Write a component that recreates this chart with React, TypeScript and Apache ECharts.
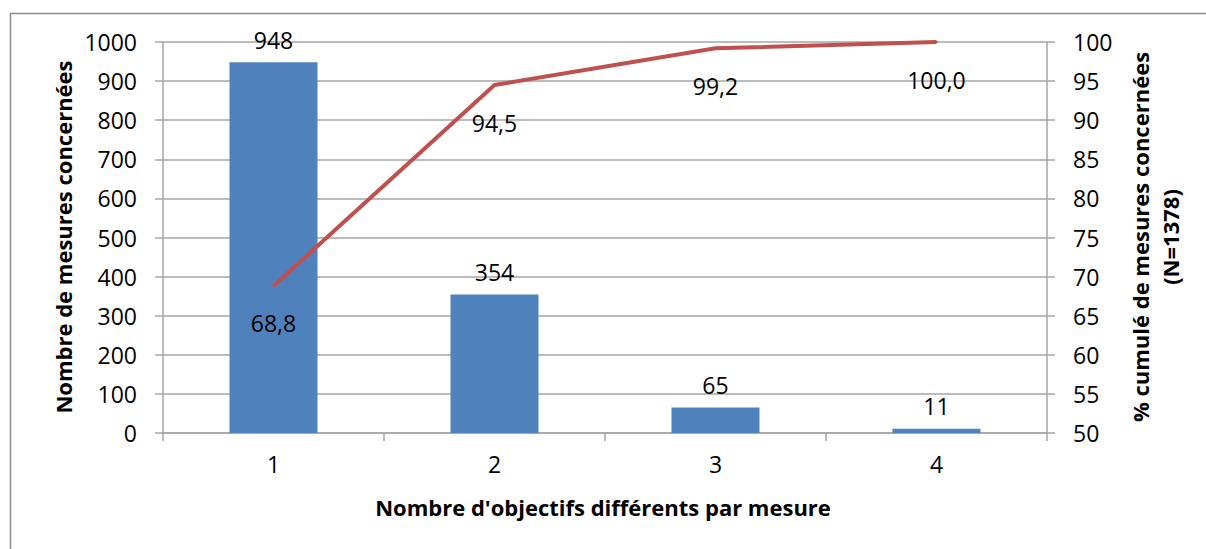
import React, { useEffect, useRef } from "react";
import * as echarts from "echarts";

const categories = ["1", "2", "3", "4"];
const counts = [948, 354, 65, 11];
const cumulative = [68.8, 94.5, 99.2, 100.0];
const leftTitle = "Nombre de mesures concernées";
const rightTitle = "% cumulé de mesures concernées\n(N=1378)";
const xTitle = "Nombre d'objectifs différents par mesure";

const FONT = "Open Sans";
const FS = 23;
const TFS = 22;

export default function App() {
  const ref = useRef<HTMLDivElement>(null);
  useEffect(() => {
    document.body.style.margin = "0";
    const chart = echarts.init(ref.current!, null, { renderer: "svg" });
    chart.setOption({
      animation: false,
      backgroundColor: "#ffffff",
      textStyle: { fontFamily: FONT },
      grid: { left: 163, right: 159, top: 42, bottom: 116 },
      graphic: [
        {
          type: "rect",
          shape: { x: 10.5, y: 13.5, width: 1220, height: 560 },
          style: { fill: "none", stroke: "#8c8c8c", lineWidth: 1.5 },
          silent: true,
        },
        {
          type: "text",
          x: 63,
          y: 237,
          rotation: Math.PI / 2,
          style: {
            text: leftTitle,
            font: `bold ${TFS}px "${FONT}"`,
            fill: "#000",
            textAlign: "center",
            textVerticalAlign: "middle",
          },
        },
        {
          type: "text",
          x: 1155,
          y: 237,
          rotation: Math.PI / 2,
          style: {
            text: rightTitle,
            font: `bold ${TFS}px "${FONT}"`,
            fill: "#000",
            textAlign: "center",
            textVerticalAlign: "middle",
            lineHeight: 30,
          },
        },
        {
          type: "text",
          x: 603,
          y: 507,
          style: {
            text: xTitle,
            font: `bold ${TFS}px "${FONT}"`,
            fill: "#000",
            textAlign: "center",
            textVerticalAlign: "middle",
          },
        },
      ],
      xAxis: {
        type: "category",
        data: categories,
        boundaryGap: true,
        axisLine: { lineStyle: { color: "#a6a6a6", width: 1.5 } },
        axisTick: { show: true, alignWithLabel: false, length: 8, inside: false, lineStyle: { color: "#a6a6a6", width: 1.5 } },
        axisLabel: { color: "#000", fontSize: FS, fontFamily: FONT, margin: 19 },
      },
      yAxis: [
        {
          type: "value",
          min: 0,
          max: 1000,
          interval: 100,
          axisLine: { show: true, lineStyle: { color: "#a6a6a6", width: 1.5 } },
          axisTick: { show: true, length: 8, lineStyle: { color: "#a6a6a6", width: 1.5 } },
          splitLine: { show: true, lineStyle: { color: "#a6a6a6", width: 1.5 } },
          axisLabel: { color: "#000", fontSize: FS, fontFamily: FONT, margin: 26, formatter: (v: number) => String(v) },
        },
        {
          type: "value",
          min: 50,
          max: 100,
          interval: 5,
          position: "right",
          axisLine: { show: true, lineStyle: { color: "#a6a6a6", width: 1.5 } },
          axisTick: { show: true, length: 8, lineStyle: { color: "#a6a6a6", width: 1.5 } },
          splitLine: { show: false },
          axisLabel: { color: "#000", fontSize: FS, fontFamily: FONT, margin: 26, formatter: (v: number) => String(v) },
        },
      ],
      series: [
        {
          type: "bar",
          data: counts,
          yAxisIndex: 0,
          barWidth: 88,
          itemStyle: { color: "#4f81bd" },
          label: {
            show: true,
            position: "top",
            distance: 11,
            color: "#000",
            fontSize: FS,
            fontFamily: FONT,
          },
        },
        {
          type: "line",
          data: cumulative,
          yAxisIndex: 1,
          symbol: "circle",
          symbolSize: 2,
          showSymbol: true,
          showAllSymbol: true,
          itemStyle: { color: "#c0504d" },
          lineStyle: { color: "#c0504d", width: 4 },
          label: {
            show: true,
            position: "bottom",
            distance: 25,
            offset: [6, 0],
            color: "#000",
            fontSize: FS,
            fontFamily: FONT,
            formatter: (p: any) => Number(p.value).toFixed(1).replace(".", ","),
          },
          labelLayout: { hideOverlap: false },
        },
      ],
    });
    return () => chart.dispose();
  }, []);
  return <div ref={ref} style={{ width: 1206, height: 549 }} />;
}
